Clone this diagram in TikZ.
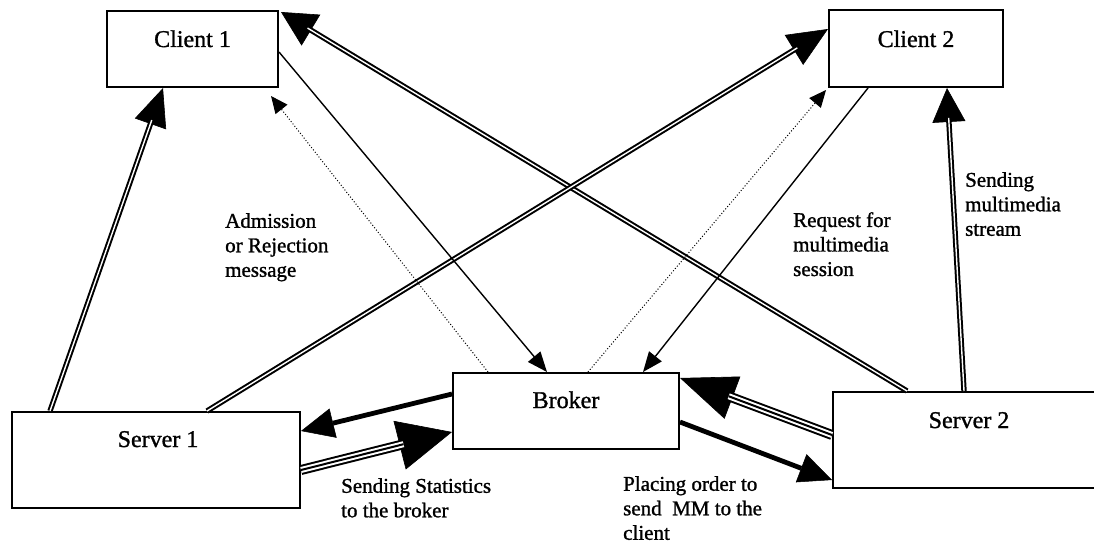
\documentclass[tikz,border=0pt]{standalone}
\usepackage{fontspec}
\setmainfont{Liberation Serif}[BoldFont=Liberation Serif, BoldFeatures={FakeBold=1.2}]
\usetikzlibrary{arrows.meta}
\begin{document}
\begin{tikzpicture}[x=1pt,y=-1pt,
  box/.style={draw, line width=2pt, fill=white, anchor=north west, inner sep=0pt},
  boxtext/.style={anchor=base, inner sep=0pt, font=\fontsize{24}{28}\selectfont\bfseries},
  note/.style={anchor=north west, inner sep=0pt, align=left, font=\fontsize{21}{24.5}\selectfont\bfseries},
  guide/.style={line width=0.6pt},
  dblshaft/.style={line width=2pt, double=white, double distance=1.4pt},
  tripleshaft/.style={line width=10pt, postaction={draw=white, line width=6pt}, postaction={draw=black, line width=2pt}},
  thinarrow/.style={line width=1.4pt},
  dotarrow/.style={line width=1pt, dotted},
  heavyarrow/.style={line width=4.8pt},
]
\useasboundingbox (0,0) rectangle (1094,543);
\clip (0,0) rectangle (1094,543);

% boxes
\node[box, minimum width=171pt, minimum height=76pt] (c1) at (106,10) {};
\node[box, minimum width=174pt, minimum height=77pt] (c2) at (828,9) {};
\node[box, minimum width=226pt, minimum height=76pt] (br) at (452,372) {};
\node[box, minimum width=288pt, minimum height=96pt] (s1) at (11,411) {};
\node[box, minimum width=272pt, minimum height=96pt] (s2) at (832,391) {};

\node[boxtext] (c1t) at ([yshift=-37pt]c1.north) {Client 1};
\node[boxtext] (c2t) at ([yshift=-38pt]c2.north) {Client 2};
\node[boxtext] (brt) at ([yshift=-36pt]br.north) {Broker};
\node[boxtext] (s1t) at ([yshift=-36pt,xshift=2pt]s1.north) {Server 1};
\node[boxtext] (s2t) at ([yshift=-37pt]s2.north) {Server 2};

% multimedia streams from the servers to the clients (double lines)
\draw[guide, -{Triangle[length=38pt,width=33pt]},
      postaction={draw, -, dblshaft, shorten >=34pt}]
  ([xshift=39pt]s1.north west) -- ([xshift=57pt]c1.south west);
\draw[guide, -{Triangle[length=35pt,width=36pt]},
      postaction={draw, -, dblshaft, shorten >=31pt}]
  ([xshift=75pt]s2.north west) -- ([xshift=2pt,yshift=-2pt]c1.north east);
\draw[guide, -{Triangle[length=40pt,width=35pt]},
      postaction={draw, -, dblshaft, shorten >=36pt}]
  ([xshift=196pt]s1.north west) -- ([yshift=-20pt]c2.north west);
\draw[guide, -{Triangle[length=34pt,width=33pt]},
      postaction={draw, -, dblshaft, shorten >=30pt}]
  ([xshift=132pt]s2.north west) -- ([xshift=119pt]c2.south west);

% session requests and broker replies
\draw[thinarrow, -{Triangle[length=20pt,width=16pt]}]
  ([yshift=-42pt]c1.north east) -- ([xshift=95pt]br.north west);
\draw[thinarrow, -{Triangle[length=20pt,width=16pt]}]
  ([xshift=40pt]c2.south west) -- ([xshift=191pt]br.north west);
\draw[dotarrow, -{Triangle[length=17pt,width=15pt]}]
  ([xshift=36pt]br.north west) -- ([xshift=-8pt,yshift=-8pt]c1.south east);
\draw[dotarrow, -{Triangle[length=17pt,width=15pt]}]
  ([xshift=136pt]br.north west) -- ([xshift=-2pt,yshift=-2pt]c2.south west);

% broker <-> servers
\draw[heavyarrow, -{Triangle[length=33pt,width=30pt,line width=0.5pt]}]
  ([yshift=-22pt]br.north west) -- ([yshift=-20pt]s1.north east);
\draw[guide, -{Triangle[length=54pt,width=50pt]},
      postaction={draw, -, tripleshaft, shorten >=50pt}]
  ([yshift=-59pt]s1.north east) -- ([yshift=-60pt]br.north west);
\draw[guide, -{Triangle[length=56pt,width=45pt]},
      postaction={draw, -, tripleshaft, shorten >=52pt}]
  ([yshift=-44pt]s2.north west) -- ([yshift=-6pt]br.north east);
\draw[heavyarrow, -{Triangle[length=33pt,width=30pt,line width=0.5pt]}]
  ([yshift=-50pt]br.north east) -- ([yshift=-89pt]s2.north west);

% annotations
\node[note] (adm) at (225,213) {Admission\\or Rejection\\message};
\node[note] (req) at (793,212) {Request for\\multimedia\\session};
\node[note] (mms) at (965,172) {Sending\\multimedia\\stream};
\node[note] (sta) at (341,478) {Sending Statistics\\to the broker};
\node[note] (ord) at (623,476) {Placing order to\\send\ \ MM to the\\client};
\end{tikzpicture}
\end{document}
